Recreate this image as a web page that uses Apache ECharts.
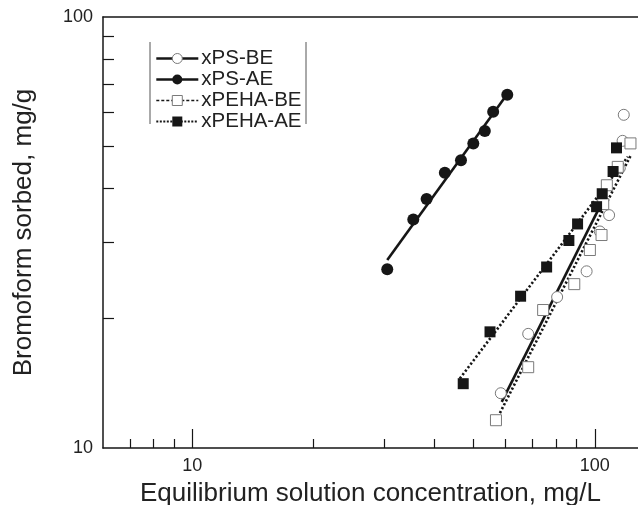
<!DOCTYPE html>
<html>
<head>
<meta charset="utf-8">
<script src="https://cdn.jsdelivr.net/npm/echarts@6/dist/echarts.min.js"></script>
<style>
html,body{margin:0;padding:0;background:#fff;}
#chart{width:638px;height:505px;}
</style>
</head>
<body>
<div id="chart"></div>
<script>
// ---- data ----
const psBE_x   = [58.4, 68.3, 80.6, 95.4, 102.9, 108.5, 115.3, 117.2, 118.0];
const psBE_y   = [13.4, 18.4, 22.4, 25.7, 31.8, 34.7, 44.6, 51.6, 59.3];
const psAE_x   = [30.5, 35.4, 38.2, 42.4, 46.5, 49.9, 53.3, 55.9, 60.6];
const psAE_y   = [26.0, 33.9, 37.8, 43.5, 46.5, 50.9, 54.4, 60.3, 66.0];
const pehaBE_x = [56.8, 68.3, 74.4, 88.9, 97.2, 103.9, 104.9, 107.1, 114.0, 122.6];
const pehaBE_y = [11.6, 15.4, 20.9, 24.0, 28.8, 31.2, 36.8, 40.7, 44.9, 50.9];
const pehaAE_x = [47.1, 54.9, 65.4, 75.9, 86.2, 90.6, 101.0, 104.3, 111.0, 113.2];
const pehaAE_y = [14.1, 18.6, 22.5, 26.3, 30.3, 33.1, 36.3, 38.9, 43.8, 49.7];

// fitted (Freundlich) lines, end points
const psBE_fit_x   = [58.7, 102.9];
const psBE_fit_y   = [12.8, 36.3];
const psAE_fit_x   = [30.5, 59.8];
const psAE_fit_y   = [27.3, 65.1];
const pehaBE_fit_x = [58.1, 122.6];
const pehaBE_fit_y = [12.05, 47.6];
const pehaAE_fit_x = [46.2, 120.8];
const pehaAE_fit_y = [14.5, 47.4];

const seriesNames = ['xPS-BE', 'xPS-AE', 'xPEHA-BE', 'xPEHA-AE'];
const xMajorTicks = [10, 100];
const xMinorTicks = [7, 8, 9, 20, 30, 40, 50, 60, 70, 80, 90];
const yMajorTicks = [10, 100];
const yMinorTicks = [20, 30, 40, 50, 60, 70, 80, 90];
const xTitle = 'Equilibrium solution concentration, mg/L';
const yTitle = 'Bromoform sorbed, mg/g';

// ---- helpers ----
const zip = (xs, ys) => xs.map((x, i) => [x, ys[i]]);
const FONT = 'Liberation Sans, Arial, Helvetica, sans-serif';
const INK = '#161616';
const OPEN = '#7a7a7a';
const DOT = [2.2, 2.2];

const X_MIN = 6, X_MAX = 128, Y_MIN = 10, Y_MAX = 100;

function fitLine(name, xs, ys, symbol, dashed, z) {
  return {
    name: name, type: 'line', data: zip(xs, ys),
    showSymbol: false, symbol: symbol, symbolSize: 10,
    itemStyle: { color: INK },
    lineStyle: { color: INK, width: 2.6, type: dashed ? DOT : 'solid', cap: 'butt' },
    z: z, silent: true, animation: false
  };
}
function points(name, xs, ys, symbol, filled, size, z) {
  return {
    name: name, type: 'scatter', data: zip(xs, ys),
    symbol: symbol, symbolSize: size,
    itemStyle: filled ? { color: INK, opacity: 1 }
                      : { color: '#fff', borderColor: OPEN, borderWidth: 1, opacity: 1 },
    z: z, silent: true, animation: false
  };
}

const axisLineStyle = { color: INK, width: 1.5 };
const tickStyle = { color: INK, width: 1.2 };

const option = {
  animation: false,
  backgroundColor: '#fff',
  textStyle: { fontFamily: FONT },
  grid: { left: 103, right: 0, top: 17, bottom: 57, containLabel: false, outerBoundsMode: 'none' },
  legend: {
    orient: 'vertical', left: 155, top: 48, padding: 0,
    itemWidth: 42, itemHeight: 12.5, itemGap: 0,
    selectedMode: false,
    textStyle: { fontFamily: FONT, fontSize: 20.5, color: '#222', padding: [0, 0, 0, -2] },
    data: [
      { name: seriesNames[0], itemStyle: { color: '#fff', borderColor: OPEN, borderWidth: 1 }, lineStyle: { width: 2.6 } },
      { name: seriesNames[1], itemStyle: { color: INK, borderWidth: 0 }, lineStyle: { width: 2.6 } },
      { name: seriesNames[2], itemStyle: { color: '#fff', borderColor: OPEN, borderWidth: 1 }, lineStyle: { width: 1.4, type: [3, 2] } },
      { name: seriesNames[3], itemStyle: { color: INK, borderWidth: 0 }, lineStyle: { width: 2, type: [2, 1.5] } }
    ]
  },
  xAxis: [
    {
      type: 'log', logBase: 10, min: X_MIN, max: X_MAX, position: 'bottom',
      axisLine: { show: true, lineStyle: axisLineStyle },
      axisTick: { show: true, inside: true, length: 19, customValues: xMajorTicks, lineStyle: tickStyle },
      axisLabel: { show: true, customValues: xMajorTicks, fontSize: 18, color: '#222', margin: 9, fontFamily: FONT },
      splitLine: { show: false }, minorTick: { show: false },
      name: xTitle, nameLocation: 'middle', nameGap: 33,
      nameTextStyle: { fontSize: 26, color: '#222', fontFamily: FONT }
    },
    {
      type: 'log', logBase: 10, min: X_MIN, max: X_MAX, position: 'bottom',
      axisLine: { show: false },
      axisTick: { show: true, inside: true, length: 9, customValues: xMinorTicks, lineStyle: tickStyle },
      axisLabel: { show: false }, splitLine: { show: false }
    },
    {
      type: 'log', logBase: 10, min: X_MIN, max: X_MAX, position: 'top',
      axisLine: { show: true, lineStyle: axisLineStyle },
      axisTick: { show: false }, axisLabel: { show: false }, splitLine: { show: false }
    }
  ],
  yAxis: [
    {
      type: 'log', logBase: 10, min: Y_MIN, max: Y_MAX, position: 'left',
      axisLine: { show: true, lineStyle: axisLineStyle },
      axisTick: { show: false },
      axisLabel: { show: true, customValues: yMajorTicks, fontSize: 18, color: '#222', margin: 10, fontFamily: FONT },
      splitLine: { show: false },
      name: yTitle, nameLocation: 'middle', nameGap: 66, nameRotate: 90,
      nameTextStyle: { fontSize: 26, color: '#222', fontFamily: FONT }
    },
    {
      type: 'log', logBase: 10, min: Y_MIN, max: Y_MAX, position: 'left',
      axisLine: { show: false },
      axisTick: { show: true, inside: true, length: 11, customValues: yMinorTicks, lineStyle: tickStyle },
      axisLabel: { show: false }, splitLine: { show: false }
    }
  ],
  graphic: [
    { type: 'line', shape: { x1: 150, y1: 42, x2: 150, y2: 124 }, style: { stroke: '#555', lineWidth: 1 }, silent: true },
    { type: 'line', shape: { x1: 306, y1: 42, x2: 306, y2: 124 }, style: { stroke: '#555', lineWidth: 1 }, silent: true }
  ],
  series: [
    fitLine(seriesNames[0], psBE_fit_x, psBE_fit_y, 'circle', false, 2),
    fitLine(seriesNames[1], psAE_fit_x, psAE_fit_y, 'circle', false, 2),
    fitLine(seriesNames[2], pehaBE_fit_x, pehaBE_fit_y, 'rect', true, 2),
    fitLine(seriesNames[3], pehaAE_fit_x, pehaAE_fit_y, 'rect', true, 2),
    points(seriesNames[0], psBE_x, psBE_y, 'circle', false, 11, 3),
    points(seriesNames[2], pehaBE_x, pehaBE_y, 'rect', false, 11, 4),
    points(seriesNames[3], pehaAE_x, pehaAE_y, 'rect', true, 11, 5),
    points(seriesNames[1], psAE_x, psAE_y, 'circle', true, 12, 6)
  ]
};

const chart = echarts.init(document.getElementById('chart'), null, { renderer: 'canvas' });
chart.setOption(option);
</script>
</body>
</html>
